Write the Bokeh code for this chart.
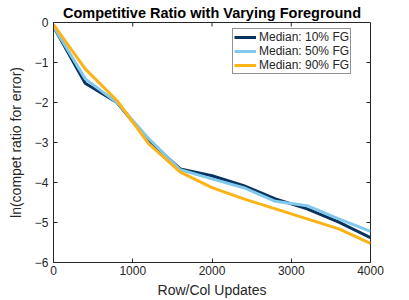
from bokeh.plotting import figure
from bokeh.models import Legend, LegendItem, Range1d, FixedTicker
from bokeh.embed import file_html
from bokeh.resources import INLINE

updates = [0, 400, 800, 1200, 1600, 2000, 2400, 2800, 3200, 3600, 4000]
fg10 = [-0.10, -1.52, -2.00, -2.95, -3.66, -3.83, -4.08, -4.41, -4.66, -4.99, -5.38]
fg50 = [-0.10, -1.41, -2.00, -2.90, -3.68, -3.91, -4.13, -4.47, -4.58, -4.91, -5.22]
fg90 = [-0.05, -1.16, -1.95, -3.03, -3.74, -4.13, -4.41, -4.66, -4.91, -5.16, -5.52]
labels = ["Median: 10% FG", "Median: 50% FG", "Median: 90% FG"]
colors = ["#08335e", "#80c8ec", "#fdb316"]
xticks = [0, 1000, 2000, 3000, 4000]
yticks = [0, -1, -2, -3, -4, -5, -6]

FONT = "Liberation Sans"
TXT = "#262626"

p = figure(frame_width=317, frame_height=240, output_backend="svg", toolbar_location=None,
           x_range=Range1d(0, 4000), y_range=Range1d(-6, 0),
           min_border_left=53, min_border_right=25, min_border_top=22, min_border_bottom=30)
p.title.text = "Competitive Ratio with Varying Foreground"
p.title.text_font = FONT
p.title.text_font_size = "14.5px"
p.title.text_font_style = "bold"
p.title.text_color = "black"
p.title.align = "center"
p.title.offset = 0
p.title.standoff = 3
p.xgrid.visible = False
p.ygrid.visible = False
p.outline_line_color = TXT
p.outline_line_width = 1

renderers = []
for ys, c in zip([fg10, fg50, fg90], colors):
    r = p.line(updates, ys, line_color=c, line_width=3)
    renderers.append(r)

for ax in [p.xaxis[0], p.yaxis[0]]:
    ax.major_tick_in = 4
    ax.major_tick_out = 0
    ax.minor_tick_in = 0
    ax.minor_tick_out = 0
    ax.axis_line_color = TXT
    ax.major_tick_line_color = TXT
    ax.major_label_text_font = FONT
    ax.major_label_text_font_size = "12px"
    ax.major_label_text_color = TXT
    ax.axis_label_text_font = FONT
    ax.axis_label_text_font_size = "14px"
    ax.axis_label_text_font_style = "normal"
    ax.axis_label_text_color = TXT

p.xaxis.ticker = FixedTicker(ticks=xticks)
p.yaxis.ticker = FixedTicker(ticks=yticks)
p.xaxis.axis_label = "Row/Col Updates"
p.yaxis.axis_label = "ln(compet ratio for error)"
p.xaxis.major_label_standoff = 3
p.xaxis.axis_label_standoff = 4
p.yaxis.major_label_standoff = 5
p.yaxis.axis_label_standoff = 8

# mirrored inward ticks on top and right edges of the box
n = len(xticks)
p.segment(x0=xticks, x1=xticks, y0=[0] * n, y1=[-0.1] * n, line_color=TXT, line_width=1)
m = len(yticks)
p.segment(x0=[4000] * m, x1=[3950] * m, y0=yticks, y1=yticks, line_color=TXT, line_width=1)

legend = Legend(items=[LegendItem(label=l, renderers=[r]) for l, r in zip(labels, renderers)],
                location=(179, 188))
legend.label_text_font = FONT
legend.label_text_font_size = "12px"
legend.label_text_color = TXT
legend.label_height = 12
legend.glyph_height = 12
legend.glyph_width = 22
legend.label_standoff = 3
legend.spacing = 0
legend.padding = 1
legend.margin = 0
legend.border_line_color = TXT
legend.border_line_width = 1
legend.background_fill_alpha = 1
p.add_layout(legend, "center")

open("out.html", "w").write(file_html(p, INLINE))
